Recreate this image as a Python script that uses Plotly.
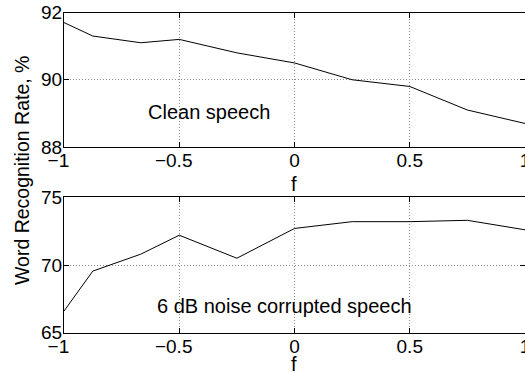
import plotly.graph_objects as go

f_vals = [-1, -0.875, -0.667, -0.5, -0.25, 0, 0.25, 0.5, 0.75, 1]
clean_rate = [91.7, 91.3, 91.1, 91.2, 90.8, 90.5, 90.0, 89.8, 89.1, 88.7]
noisy_rate = [66.6, 69.55, 70.8, 72.2, 70.5, 72.7, 73.2, 73.2, 73.3, 72.6]
x_ticks = [-1, -0.5, 0, 0.5, 1]
x_ticklabels = ["\u22121", "\u22120.5", "0", "0.5", "1"]
top_yticks = [88, 90, 92]
bot_yticks = [65, 70, 75]

W, H = 525, 373
FONT = "Liberation Sans, Arial, Helvetica, sans-serif"

def px_x(p):
    return p / W

def px_y(p):
    return 1 - p / H

# MATLAB centres the digits and lets the minus sign hang to the left:
# pad negative labels with an invisible minus on the right.
PAD = "<span style='color:rgba(0,0,0,0)'>\u2212</span>"
x_ticktext = [t + PAD if t.startswith("\u2212") else t for t in x_ticklabels]

fig = go.Figure()
fig.add_trace(go.Scatter(x=f_vals, y=clean_rate, mode="lines",
                         line=dict(color="black", width=1), xaxis="x", yaxis="y",
                         showlegend=False))
fig.add_trace(go.Scatter(x=f_vals, y=noisy_rate, mode="lines",
                         line=dict(color="black", width=1), xaxis="x2", yaxis="y2",
                         showlegend=False))

axis_common = dict(
    showline=True, linecolor="black", linewidth=1, mirror="ticks",
    ticks="inside", ticklen=5, tickcolor="black", automargin=False,
    showgrid=True, gridcolor="#8a8a8a", griddash="1px,2px", gridwidth=1,
    zeroline=False, tickfont=dict(family=FONT, size=19, color="black"),
)

xdom = [px_x(64), 1.0]
xaxis_extra = dict(tickvals=x_ticks, ticktext=x_ticktext, range=[-1, 1],
                   ticklabeloverflow="allow", ticklabelstandoff=-4)
yaxis_extra = dict(ticklabelstandoff=-3)
fig.update_layout(
    width=W, height=H, autosize=False,
    margin=dict(l=0, r=0, t=0, b=0, pad=0, autoexpand=False),
    paper_bgcolor="white", plot_bgcolor="white",
    showlegend=False,
    xaxis=dict(domain=xdom, anchor="y", **xaxis_extra, **axis_common),
    yaxis=dict(domain=[px_y(147), px_y(12.5)], range=[88, 92], tickvals=top_yticks,
               anchor="x", **yaxis_extra, **axis_common),
    xaxis2=dict(domain=xdom, anchor="y2", **xaxis_extra, **axis_common),
    yaxis2=dict(domain=[px_y(332.7), px_y(197.3)], range=[65, 75], tickvals=bot_yticks,
                anchor="x2", **yaxis_extra, **axis_common),
)

ann_font = dict(family=FONT, size=20, color="black")

def label(xp, yp, text, **kw):
    fig.add_annotation(x=px_x(xp), y=px_y(yp), xref="paper", yref="paper", text=text,
                       showarrow=False, xanchor="center", yanchor="middle", **kw)

label(209, 112, "Clean speech", font=ann_font)
label(284, 305.5, "6 dB noise corrupted speech", font=ann_font)
label(294, 184, "f", font=ann_font)
label(294, 363.5, "f", font=ann_font)
label(22, 171, "Word Recognition Rate, %", textangle=-90,
      font=dict(family=FONT, size=19.5, color="black"))

fig.write_html("out.html", config={"responsive": False})
